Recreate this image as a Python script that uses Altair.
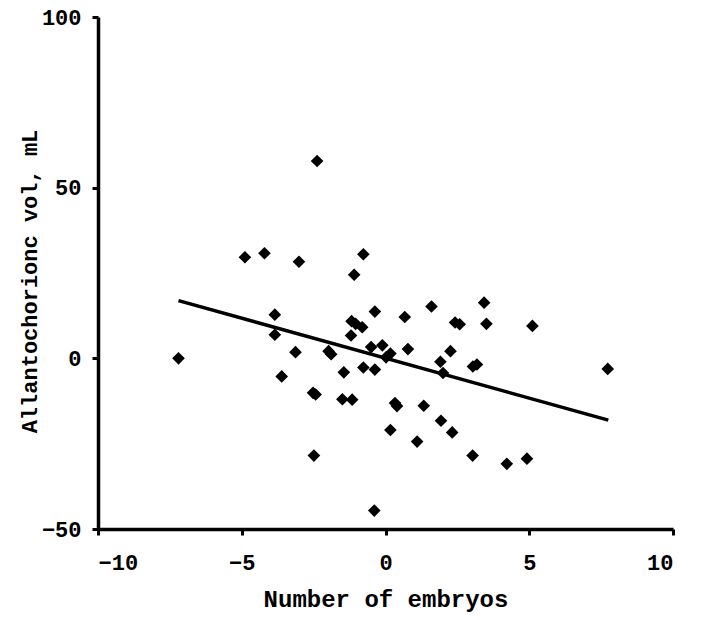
import altair as alt
import pandas as pd

embryos = [-7.2, -4.89, -4.21, -3.01, -2.38, -0.77, -1.09, -3.85, -0.37, -3.85,
           -3.13, -1.98, -1.89, -1.18, -1.04, -0.81, -1.2, -0.5, -0.11, 0.17,
           0.02, 0.78, -3.61, -1.45, -0.77, -0.37, -2.52, -2.43, -1.5, -1.16,
           -2.49, -0.39, 0.33, 0.4, 1.33, 1.93, 2.32, 0.17, 1.1, 3.03,
           4.22, 4.92, 0.67, 1.6, 2.42, 2.58, 3.43, 3.51, 5.11, 7.73,
           1.91, 2.0, 2.26, 3.04, 3.18]
volume = [0.0, 29.6, 30.8, 28.3, 57.8, 30.5, 24.5, 12.8, 13.7, 6.9,
          1.8, 2.1, 1.2, 10.9, 10.1, 9.1, 6.7, 3.3, 3.8, 1.4,
          0.3, 2.7, -5.3, -4.1, -2.7, -3.3, -10.1, -10.6, -12.0, -12.1,
          -28.5, -44.6, -13.1, -14.0, -13.9, -18.3, -21.7, -21.0, -24.4, -28.5,
          -30.9, -29.4, 12.1, 15.2, 10.5, 10.0, 16.3, 10.1, 9.5, -3.1,
          -1.0, -4.3, 2.1, -2.4, -1.8]

fit_x = [-7.2, 7.75]
fit_y = [16.9, -18.1]

x_ticks = [-10, -5, 0, 5, 10]
y_ticks = [-50, 0, 50, 100]

pts = pd.DataFrame({"x": embryos, "y": volume})
fit = pd.DataFrame({"x": fit_x, "y": fit_y})

FONT = "Liberation Mono"

x_enc = alt.X("x:Q", scale=alt.Scale(domain=[-10, 10], nice=False, zero=False),
              axis=alt.Axis(values=x_ticks, title="Number of embryos",
                            labelFontSize=22, titleFontSize=24,
                            labelBaseline="alphabetic", labelPadding=34,
                            titleBaseline="alphabetic", titleY=77))
y_enc = alt.Y("y:Q", scale=alt.Scale(domain=[-50, 100], nice=False, zero=False),
              axis=alt.Axis(values=y_ticks, title="Allantochorionc vol, mL",
                            labelFontSize=22, titleFontSize=22,
                            labelPadding=11, titleX=-57, titleY=264))

points = alt.Chart(pts).mark_point(shape="diamond", filled=True, color="black",
                                   size=160, opacity=1).encode(x=x_enc, y=y_enc)
line = alt.Chart(fit).mark_line(color="black", strokeWidth=3.5).encode(
    x="x:Q", y="y:Q")

chart = alt.layer(points, line).properties(
    width=575, height=512,
    autosize=alt.AutoSizeParams(type="none"),
    padding={"left": 90, "top": 9, "right": 22, "bottom": 83},
).configure_view(stroke=None).configure_axis(
    grid=False, domainColor="black", domainWidth=3.5, tickColor="black",
    tickWidth=3, tickSize=6, labelColor="black", titleColor="black",
    labelFont=FONT, titleFont=FONT, labelFontWeight="bold",
    titleFontWeight="bold",
)

chart.save("out.html", embed_options={"renderer": "svg", "actions": False})
